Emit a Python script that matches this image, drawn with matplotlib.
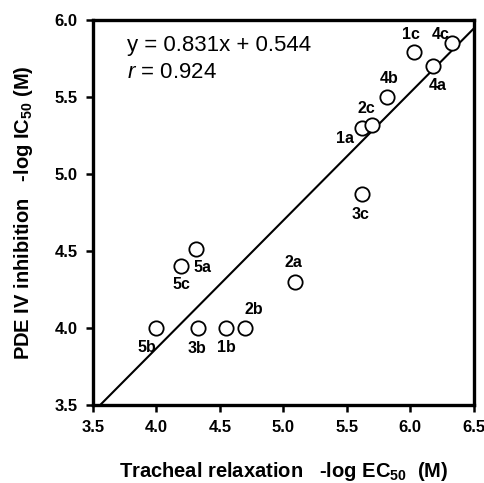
import matplotlib
matplotlib.use("Agg")
import matplotlib.pyplot as plt
import numpy as np

plt.rcParams['font.family'] = ['Liberation Sans', 'DejaVu Sans']
plt.rcParams['mathtext.fontset'] = 'custom'
plt.rcParams['mathtext.rm'] = 'Liberation Sans'
plt.rcParams['mathtext.it'] = 'Liberation Sans:italic'
plt.rcParams['mathtext.bf'] = 'Liberation Sans:bold'

compounds = ['1a', '1b', '1c', '2a', '2b', '2c', '3b', '3c', '4a', '4b', '4c', '5a', '5b', '5c']
tracheal = [5.62, 4.55, 6.03, 5.09, 4.70, 5.70, 4.33, 5.62, 6.18, 5.82, 6.33, 4.31, 4.00, 4.19]
pde = [5.30, 4.00, 5.79, 4.30, 4.00, 5.32, 4.00, 4.87, 5.70, 5.50, 5.85, 4.51, 4.00, 4.40]
slope, intercept = 0.831, 0.544
r_value = 0.924
xticks = [3.5, 4.0, 4.5, 5.0, 5.5, 6.0, 6.5]
yticks = [3.5, 4.0, 4.5, 5.0, 5.5, 6.0]

# label offsets (points) relative to each marker
offsets = {
    '1a': (-12, -8), '1b': (0, -14), '1c': (-2, 13), '2a': (-1, 14),
    '2b': (6, 13), '2c': (-4, 12), '3b': (-1, -15), '3c': (-1, -15),
    '4a': (3, -14), '4b': (1, 13), '4c': (-8, 6), '5a': (5, -13),
    '5b': (-7, -14), '5c': (1, -13),
}

fig = plt.figure(figsize=(4.84, 4.83), dpi=100)
ax = fig.add_axes([0.192, 0.1615, 0.787, 0.797])

xl = np.linspace(3.5, 6.5, 50)
ax.plot(xl, slope * xl + intercept, color='black', lw=1.5, zorder=2)
ax.plot(tracheal, pde, 'o', ms=10.3, mfc='white', mec='black', mew=1.3, zorder=3)

for name, x, y in zip(compounds, tracheal, pde):
    dx, dy = offsets[name]
    ax.annotate(name, (x, y), xytext=(dx, dy), textcoords='offset points',
                ha='center', va='center', fontsize=11.5, fontweight='bold')

ax.text(0.09, 0.935, f"y = {slope}x + {intercept}", transform=ax.transAxes,
        fontsize=16, va='center', ha='left')
ax.text(0.09, 0.865, f"$\\it{{r}}$ = {r_value}", transform=ax.transAxes,
        fontsize=16, va='center', ha='left')

ax.set_xlim(3.5, 6.5)
ax.set_ylim(3.5, 6.0)
ax.set_xticks(xticks)
ax.set_yticks(yticks)
ax.set_xticklabels([f"{t:.1f}" for t in xticks], fontweight='bold', fontsize=12)
ax.set_yticklabels([f"{t:.1f}" for t in yticks], fontweight='bold', fontsize=12)
ax.tick_params(direction='out', length=5, width=1.8, pad=6)
for s in ax.spines.values():
    s.set_linewidth(2.4)

ax.set_xlabel(r"Tracheal relaxation   -log EC$_{\mathbf{50}}$  (M)", fontsize=14.5,
              fontweight='bold', labelpad=18)
ax.set_ylabel(r"PDE IV inhibition   -log IC$_{\mathbf{50}}$ (M)", fontsize=14.5,
              fontweight='bold', labelpad=14)

fig.savefig("out.png", dpi=100)
